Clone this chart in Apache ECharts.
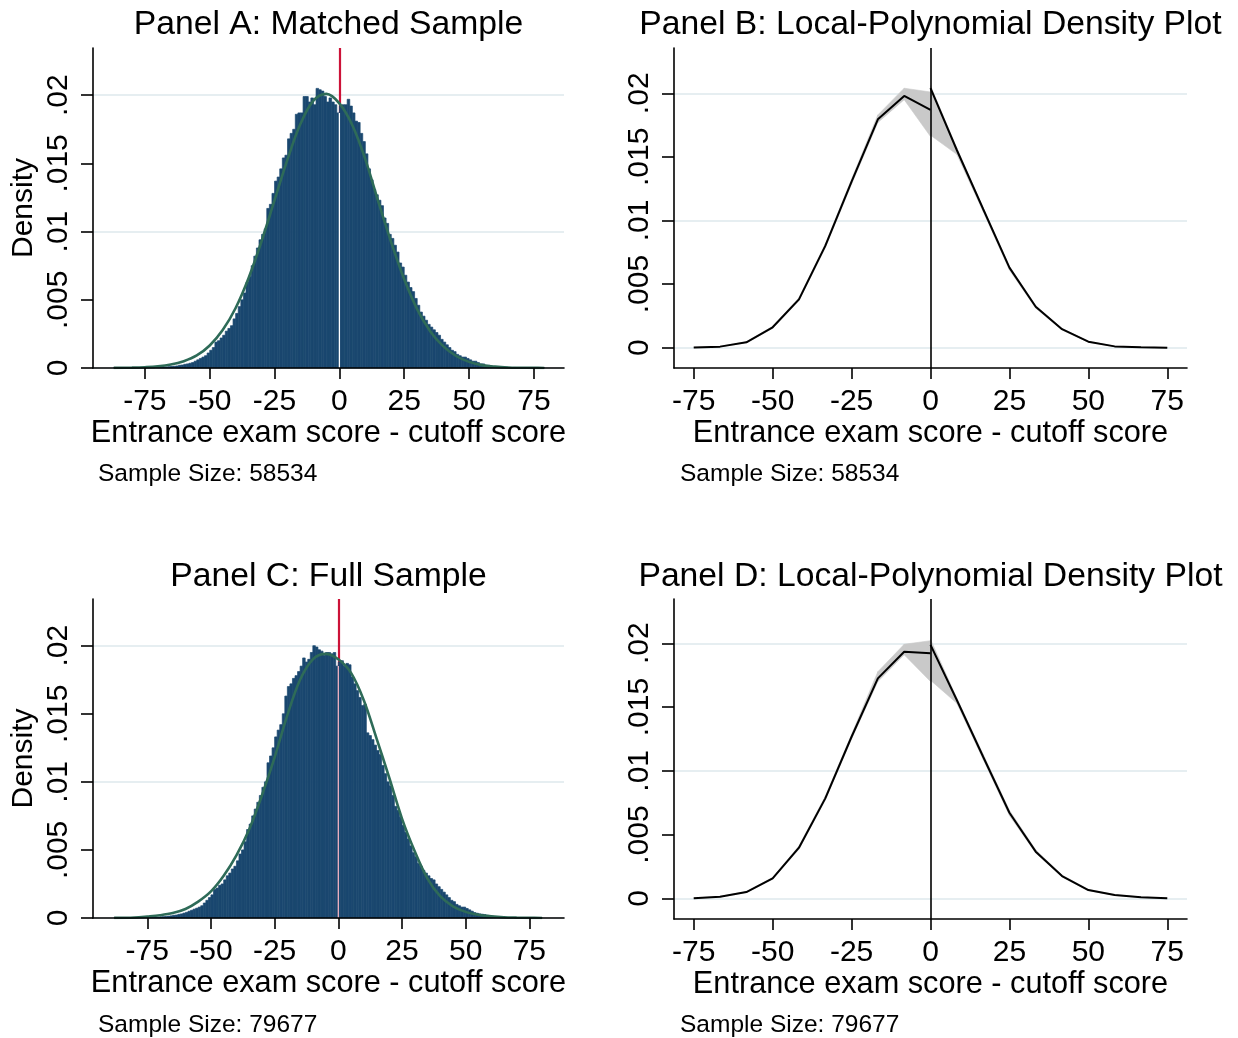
<!DOCTYPE html>
<html><head><meta charset="utf-8">
<script src="https://cdn.jsdelivr.net/npm/echarts@6/dist/echarts.min.js"></script>
<style>html,body{margin:0;padding:0;background:#fff}#c{width:1238px;height:1038px}</style>
</head><body><div id="c"></div>
<script>
// ---------- DATA ----------
const xTickValues = [-75, -50, -25, 0, 25, 50, 75];
const yTickValues = [0, 0.005, 0.01, 0.015, 0.02];

const titles = ['Panel A: Matched Sample', 'Panel B: Local-Polynomial Density Plot',
                'Panel C: Full Sample', 'Panel D: Local-Polynomial Density Plot'];
const xTitle = 'Entrance exam score - cutoff score';
const yTitle = 'Density';
const sampleNotes = ['Sample Size: 58534', 'Sample Size: 58534', 'Sample Size: 79677', 'Sample Size: 79677'];

// Histogram, Panel A (bins of width 1, first bin starts at -88)
const histStartA = -88;
const histA = [
  0, 0.00002, 0, 0.00001, 0, 0, 0.00001, 0, 0.00001, 0.00002,
  0.00001, 0.00002, 0.00003, 0.00002, 0.00003, 0.00004, 0.00003, 0.00005, 0.00005, 0.00006,
  0.00007, 0.00008, 0.0001, 0.00011, 0.00013, 0.00015, 0.0002, 0.00022, 0.00027, 0.0003,
  0.00035, 0.0004, 0.0005, 0.0006, 0.0007, 0.0008, 0.0009, 0.0011, 0.0013, 0.0015,
  0.0019, 0.0020, 0.0022, 0.0024, 0.0027, 0.0029, 0.0031, 0.0036, 0.0040, 0.0045,
  0.0050, 0.0055, 0.0063, 0.0067, 0.0075, 0.0082, 0.0088, 0.0094, 0.0098, 0.0102,
  0.0117, 0.0120, 0.0128, 0.0137, 0.0140, 0.0146, 0.0154, 0.0156, 0.0168, 0.0172,
  0.0175, 0.0186, 0.0187, 0.0187, 0.0199, 0.0199, 0.0195, 0.0198, 0.0193, 0.0205,
  0.0204, 0.0203, 0.0199, 0.0195, 0.0198, 0.0195, 0.0193, 0.0187,
  0.0192, 0.0193, 0.0193, 0.0197, 0.0192, 0.0187, 0.0181, 0.0180, 0.0172, 0.0166,
  0.0157, 0.0146, 0.0138, 0.0131, 0.0127, 0.0123, 0.0119, 0.0110, 0.0106, 0.0098,
  0.0095, 0.0090, 0.0085, 0.0077, 0.0074, 0.0068, 0.0063, 0.0059, 0.0056, 0.0051,
  0.0046, 0.0041, 0.0038, 0.0035, 0.0032, 0.0030, 0.0028, 0.0026, 0.0024, 0.0021,
  0.0019, 0.0017, 0.0015, 0.0013, 0.0012, 0.0010, 0.0009, 0.0008, 0.0008, 0.0007,
  0.0006, 0.0005, 0.0005, 0.0004, 0.0003, 0.0003, 0.0002, 0.0002, 0.00015, 0.0001,
  0.0001, 0.00008, 0.00007, 0.00005, 0.00006, 0.00004, 0.00003, 0.00004, 0.00002, 0.00003,
  0.00001, 0.00002, 0, 0.00001, 0, 0.00001, 0, 0, 0.00002
];

// Histogram, Panel C
const histStartC = -88;
const histC = [
  0.00002, 0, 0, 0, 0.00001, 0.00002, 0, 0.00001, 0.00001, 0.00002,
  0.00003, 0.00002, 0.00003, 0.00004, 0.00004, 0.00005, 0.00006, 0.00007, 0.00009, 0.0001,
  0.00012, 0.00014, 0.00016, 0.0002, 0.00022, 0.00027, 0.0003, 0.00036, 0.00042, 0.0005,
  0.00057, 0.00065, 0.00072, 0.0008, 0.0009, 0.0011, 0.0013, 0.0015, 0.0017, 0.0021,
  0.0022, 0.0024, 0.0025, 0.0028, 0.0031, 0.0033, 0.0036, 0.0038, 0.0042, 0.0047,
  0.0050, 0.0056, 0.0065, 0.0069, 0.0075, 0.0080, 0.0085, 0.0090, 0.0096, 0.0100,
  0.0114, 0.0119, 0.0125, 0.0133, 0.0138, 0.0142, 0.0150, 0.0163, 0.0170, 0.0172,
  0.0176, 0.0178, 0.0181, 0.0185, 0.0191, 0.0188, 0.0190, 0.0195, 0.0200, 0.0199,
  0.0197, 0.0196, 0.0193, 0.0195, 0.0195, 0.0194, 0.0195, 0.0185,
  0.0188, 0.0189, 0.0185, 0.0187, 0.0186, 0.0177, 0.0172, 0.0167, 0.0162, 0.0156,
  0.0157, 0.0136, 0.0134, 0.0131, 0.0127, 0.0123, 0.0120, 0.0112, 0.0106, 0.0100,
  0.0097, 0.0090, 0.0082, 0.0079, 0.0074, 0.0068, 0.0063, 0.0058, 0.0053, 0.0048,
  0.0045, 0.0040, 0.0038, 0.0035, 0.0033, 0.0031, 0.0029, 0.0028, 0.0025, 0.0023,
  0.0021, 0.0019, 0.0017, 0.0015, 0.0013, 0.0012, 0.0010, 0.0009, 0.0008, 0.0008,
  0.0007, 0.0006, 0.0005, 0.0004, 0.00035, 0.0003, 0.00028, 0.00025, 0.0002, 0.00016,
  0.00013, 0.0001, 0.00009, 0.00007, 0.00006, 0.00005, 0.00004, 0.00003, 0.00004, 0.00002,
  0.00003, 0.00002, 0.00001, 0.00002, 0, 0.00001, 0, 0, 0, 0.00002
];

// Normal-density overlays
const curveXA = [-87, -80, -75, -70, -65, -60, -55, -50, -45, -40, -35, -30, -25, -20, -15, -10, -5, 0, 5, 10, 15, 20, 25, 30, 35, 40, 45, 50, 55, 60, 65, 70, 75, 79];
const curveYA = [0.00001, 0.00003, 0.00006, 0.00012, 0.00025, 0.0005, 0.00092, 0.00165, 0.00278, 0.0044, 0.0066, 0.0093, 0.0123, 0.0153, 0.0179, 0.0196, 0.0201, 0.0194, 0.0178, 0.0153, 0.0122, 0.0092, 0.0065, 0.0043, 0.0027, 0.0016, 0.00088, 0.00045, 0.00021, 0.0001, 0.00004, 0.00002, 0.00001, 0.000005];
const curveXC = [-88, -80, -75, -70, -65, -60, -55, -50, -45, -40, -35, -30, -25, -20, -15, -10, -5, 0, 5, 10, 15, 20, 25, 30, 35, 40, 45, 50, 55, 60, 65, 70, 75, 80];
const curveYC = [0.00001, 0.00004, 0.00011, 0.0002, 0.00036, 0.00066, 0.0012, 0.00195, 0.0031, 0.0046, 0.0065, 0.0090, 0.0118, 0.0149, 0.0175, 0.0190, 0.0194, 0.0190, 0.0180, 0.0160, 0.0132, 0.0103, 0.0073, 0.0049, 0.0029, 0.0016, 0.00086, 0.00045, 0.00024, 0.00013, 0.00006, 0.00003, 0.00001, 0.000005];

// Local-polynomial density estimates (left / right of cutoff)
const lpXLeft  = [-75, -66.67, -58.33, -50, -41.67, -33.33, -25, -16.67, -8.33, 0];
const lpXRight = [0, 8.33, 16.67, 25, 33.33, 41.67, 50, 58.33, 66.67, 75];

const bFitL = [0.00001, 0.00008, 0.00042, 0.0016, 0.0038, 0.0080, 0.01305, 0.01795, 0.01979, 0.01869];
const bLoL  = [0, 0.00006, 0.00038, 0.00152, 0.00368, 0.00785, 0.01285, 0.01770, 0.01950, 0.01660];
const bHiL  = [0.00002, 0.0001, 0.00046, 0.00168, 0.00392, 0.00815, 0.01325, 0.01830, 0.02040, 0.02010];
const bFitR = [0.0204, 0.01554, 0.0109, 0.00629, 0.00322, 0.00145, 0.00047, 0.0001, 0.00003, 0];
const bLoR  = [0.0167, 0.01520, 0.01070, 0.00610, 0.00310, 0.00138, 0.00043, 0.00008, 0.00002, 0];
const bHiR  = [0.0206, 0.01570, 0.01100, 0.00640, 0.00330, 0.00150, 0.00050, 0.00012, 0.00004, 0.00001];

const dFitL = [0.00001, 0.000125, 0.00049, 0.00157, 0.00397, 0.00784, 0.01267, 0.01725, 0.01934, 0.01922];
const dLoL  = [0, 0.0001, 0.00045, 0.0015, 0.00385, 0.0077, 0.0125, 0.0170, 0.0191, 0.0170];
const dHiL  = [0.00002, 0.00015, 0.00053, 0.00164, 0.0041, 0.0080, 0.01285, 0.01777, 0.01992, 0.0202];
const dFitR = [0.01987, 0.01555, 0.0111, 0.00671, 0.00366, 0.00175, 0.00065, 0.00026, 0.00008, 0];
const dLoR  = [0.0171, 0.0153, 0.0109, 0.0065, 0.00355, 0.00168, 0.0006, 0.00023, 0.00006, 0];
const dHiR  = [0.0203, 0.0157, 0.0113, 0.0069, 0.0038, 0.00182, 0.0007, 0.00029, 0.0001, 0.00001];

// ---------- STYLE ----------
const FONT = '"Liberation Sans", Arial, Helvetica, sans-serif';
const NAVY = '#1a476f', GREEN = '#2e6b58', RED = '#cc1238', GRIDC = '#e6eef1', BAND = '#c9c9c9';

const grids = [
  {left: 93,  top: 48,  width: 471, height: 320},
  {left: 674, top: 48,  width: 513, height: 320},
  {left: 93,  top: 599, width: 471, height: 319},
  {left: 674, top: 599, width: 513, height: 320}
];
const xRanges = [[-95, 86.6], [-81.25, 81.25], [-96.3, 88.6], [-81.25, 81.25]];
const yRanges = [[0, 0.02346], [-0.0016, 0.02356], [0, 0.02343], [-0.00162, 0.02347]];

const fmtY = v => v === 0 ? '0' : String(v).replace(/^0/, '');

const xAxes = grids.map((g, i) => ({
  type: 'value', gridIndex: i, min: xRanges[i][0], max: xRanges[i][1], z: 5,
  axisLine: {show: true, onZero: false, lineStyle: {color: '#000', width: 1.6}},
  axisTick: {show: true, customValues: xTickValues, length: 11, lineStyle: {color: '#000', width: 1.6}},
  axisLabel: {customValues: xTickValues, fontSize: 30, color: '#000', fontFamily: FONT, margin: 19},
  splitLine: {show: false},
  name: xTitle, nameLocation: 'middle', nameGap: 50,
  nameTextStyle: {fontSize: 30.7, color: '#000', fontFamily: FONT}
}));
const yAxes = grids.map((g, i) => ({
  type: 'value', gridIndex: i, min: yRanges[i][0], max: yRanges[i][1], z: 5,
  axisLine: {show: true, onZero: false, lineStyle: {color: '#000', width: 1.6}},
  axisTick: {show: true, customValues: yTickValues, length: 12, lineStyle: {color: '#000', width: 1.6}},
  axisLabel: {customValues: yTickValues, rotate: 90, fontSize: 30, color: '#000', fontFamily: FONT, margin: 19, formatter: fmtY},
  splitLine: {show: false},
  name: (i % 2 === 0) ? yTitle : '', nameLocation: 'middle', nameGap: 54,
  nameTextStyle: {fontSize: 30, color: '#000', fontFamily: FONT}
}));

const series = [];

// gridlines + reference line per panel
grids.forEach((g, i) => {
  series.push({
    type: 'line', xAxisIndex: i, yAxisIndex: i, data: [], z: 0, silent: true,
    markLine: {silent: true, z: 0, symbol: ['none', 'none'], animation: false, label: {show: false},
      lineStyle: {color: GRIDC, width: 2, type: 'solid'},
      data: yTickValues.map(v => ({yAxis: v}))}
  });
  const isHist = (i % 2 === 0);
  series.push({
    type: 'line', xAxisIndex: i, yAxisIndex: i, data: [], z: isHist ? 1 : 6, silent: true,
    markLine: {silent: true, z: isHist ? 1 : 6, symbol: ['none', 'none'], animation: false, label: {show: false},
      lineStyle: {color: isHist ? RED : '#000', width: isHist ? 2.2 : 1.6, type: 'solid'},
      data: [{xAxis: 0}]}
  });
});

function histSeries(idx, start, vals) {
  const data = vals.map((v, k) => [start + k, start + k + 1, v]);
  return {
    type: 'custom', xAxisIndex: idx, yAxisIndex: idx, z: 2, silent: true,
    encode: {x: [0, 1], y: 2},
    data: data,
    renderItem: (params, api) => {
      const v = api.value(2);
      if (!(v > 0)) return null;
      const p0 = api.coord([api.value(0), v]);
      const p1 = api.coord([api.value(1), 0]);
      return {type: 'rect',
        shape: {x: p0[0], y: p0[1], width: p1[0] - p0[0], height: p1[1] - p0[1]},
        style: {fill: NAVY, stroke: NAVY, lineWidth: 0.7}};
    }
  };
}
function gapLine(idx, start, vals, color) {
  const iz = -start; // index of the bin starting at 0
  const h = Math.min(vals[iz - 1], vals[iz]);
  return {type: 'line', xAxisIndex: idx, yAxisIndex: idx, z: 3, silent: true, symbol: 'none',
    lineStyle: {color: color, width: 1.3}, data: [[0, 0], [0, h]]};
}
function curveSeries(idx, xs, ys) {
  return {type: 'line', xAxisIndex: idx, yAxisIndex: idx, z: 4, silent: true, symbol: 'none',
    smooth: 0.35, lineStyle: {color: GREEN, width: 2.6}, data: xs.map((x, k) => [x, ys[k]])};
}
series.push(histSeries(0, histStartA, histA));
series.push(gapLine(0, histStartA, histA, '#ffffff'));
series.push(curveSeries(0, curveXA, curveYA));
series.push(histSeries(2, histStartC, histC));
series.push(gapLine(2, histStartC, histC, '#f2b3c2'));
series.push(curveSeries(2, curveXC, curveYC));

function lpSeries(idx, xs, fit, lo, hi) {
  const segs = xs.slice(0, -1).map((x, k) => [x, lo[k], hi[k], xs[k + 1], lo[k + 1], hi[k + 1]]);
  series.push({
    type: 'custom', xAxisIndex: idx, yAxisIndex: idx, z: 2, silent: true,
    encode: {x: [0, 3], y: [1, 2, 4, 5]},
    data: segs,
    renderItem: (params, api) => {
      const pts = [
        api.coord([api.value(0), api.value(2)]),
        api.coord([api.value(3), api.value(5)]),
        api.coord([api.value(3), api.value(4)]),
        api.coord([api.value(0), api.value(1)])
      ];
      return {type: 'polygon', shape: {points: pts},
        style: {fill: BAND, stroke: BAND, lineWidth: 0.6}};
    }
  });
  series.push({type: 'line', xAxisIndex: idx, yAxisIndex: idx, z: 4, silent: true,
    symbol: 'none', lineStyle: {color: '#000', width: 2}, data: xs.map((x, k) => [x, fit[k]])});
}
lpSeries(1, lpXLeft, bFitL, bLoL, bHiL);
lpSeries(1, lpXRight, bFitR, bLoR, bHiR);
lpSeries(3, lpXLeft, dFitL, dLoL, dHiL);
lpSeries(3, lpXRight, dFitR, dLoR, dHiR);

// texts
const titlePos = [[328.5, 25], [930.5, 25], [328.5, 577], [930.5, 577]];
const notePos = [[98, 474], [680, 474], [98, 1025], [680, 1025]];
const graphic = [];
titles.forEach((t, i) => graphic.push({type: 'text', x: titlePos[i][0], y: titlePos[i][1], silent: true,
  style: {text: t, align: 'center', verticalAlign: 'middle', fontSize: 33.7, fontFamily: FONT, fill: '#000'}}));
sampleNotes.forEach((t, i) => graphic.push({type: 'text', x: notePos[i][0], y: notePos[i][1], silent: true,
  style: {text: t, align: 'left', verticalAlign: 'middle', fontSize: 24.5, fontFamily: FONT, fill: '#000'}}));

const chart = echarts.init(document.getElementById('c'), null, {renderer: 'canvas'});
chart.setOption({
  animation: false,
  backgroundColor: '#fff',
  grid: grids.map(g => Object.assign({containLabel: false}, g)),
  xAxis: xAxes, yAxis: yAxes, series: series, graphic: graphic
});
</script>
</body></html>
